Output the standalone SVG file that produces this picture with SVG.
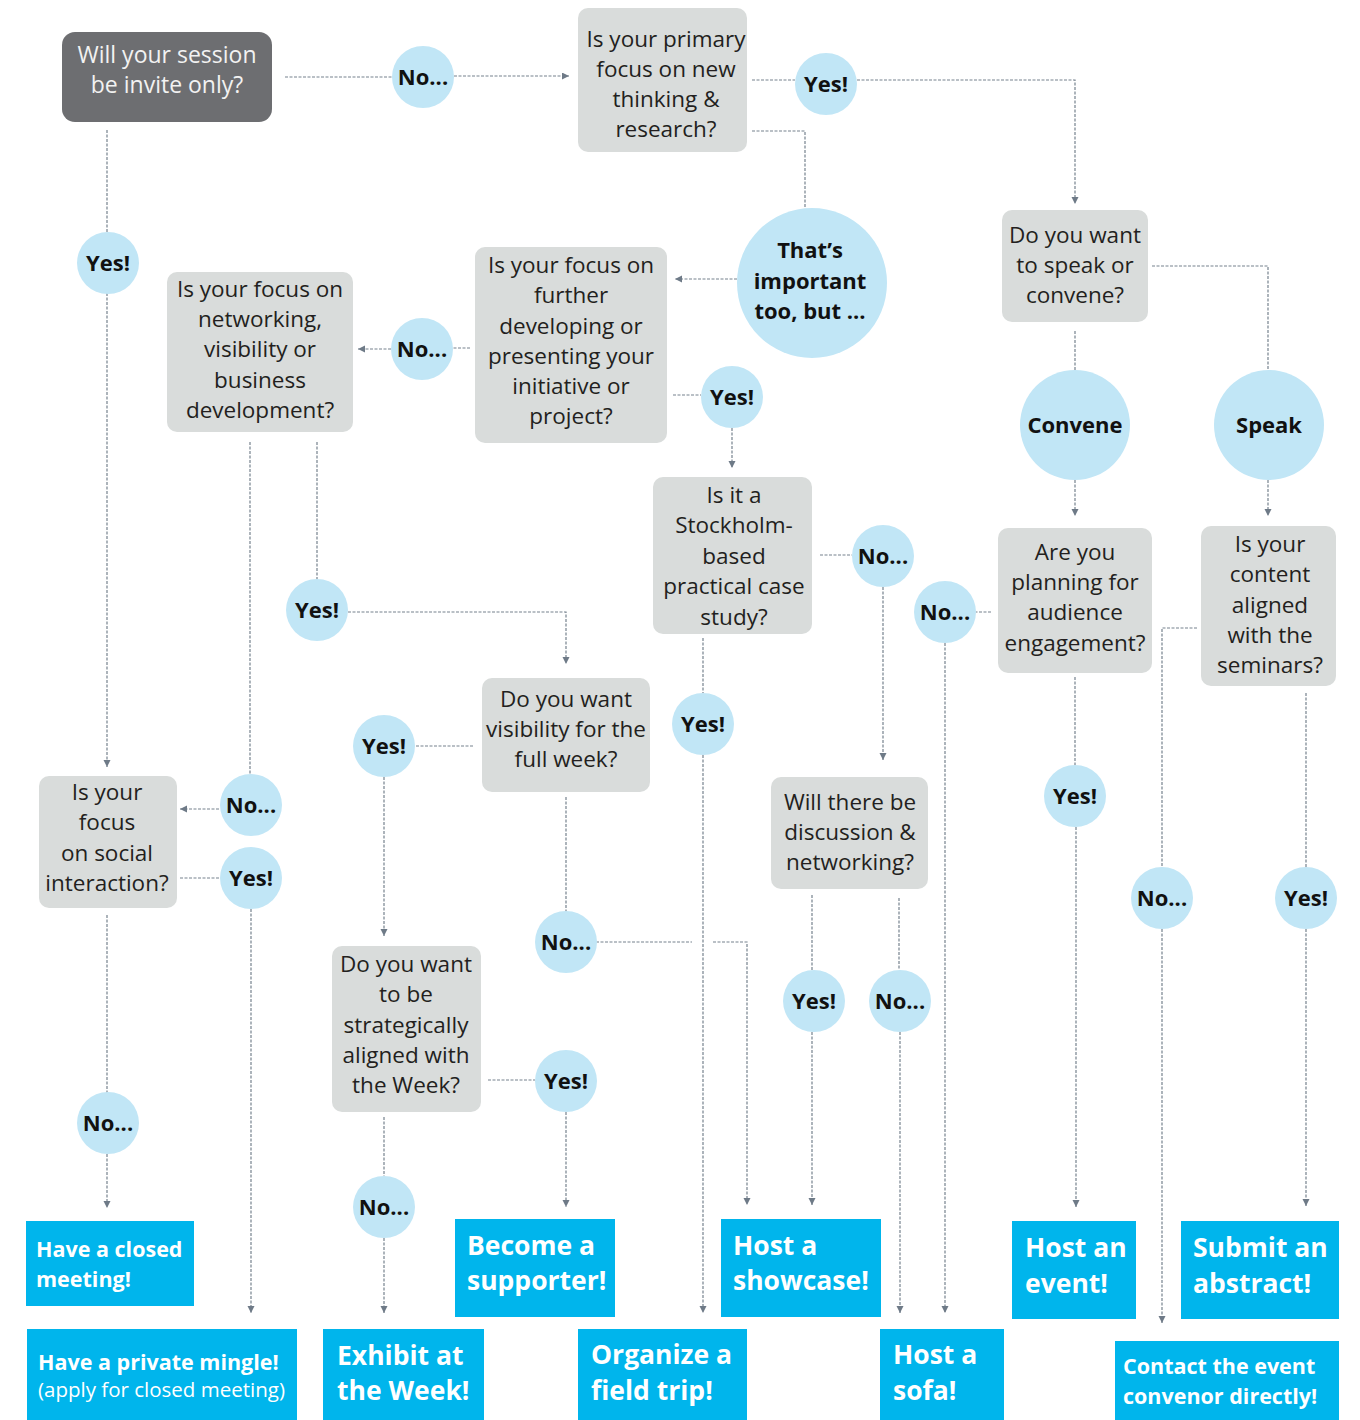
<svg xmlns="http://www.w3.org/2000/svg" width="1360" height="1420" viewBox="0 0 1360 1420">
<style>
.q rect{fill:#d9dcdb}
.q text{fill:#231f20;font-family:"Open Sans","Noto Sans",sans-serif;font-size:22.5px;text-anchor:middle}
.d rect{fill:#6d6e71}
.d text{fill:#f2f2f2;font-family:"Open Sans","Noto Sans",sans-serif;font-size:23px;text-anchor:middle}
.c circle{fill:#c1e6f6}
.c text{fill:#111;font-family:"Open Sans","Noto Sans",sans-serif;font-size:22px;font-weight:700;text-anchor:middle}
.r rect{fill:#00b5ec}
.r text{fill:#fff;font-family:"Open Sans","Noto Sans",sans-serif;font-weight:700;font-size:26.5px}
.r text.s{font-size:21.5px}
.r text.n{font-size:20.5px;font-weight:400}
#connectors path{fill:none;stroke:#76828e;stroke-width:1.2;stroke-dasharray:3 1.5}
</style>
<defs>
<marker id="ah" markerUnits="userSpaceOnUse" markerWidth="8" markerHeight="8" refX="7" refY="3.5" orient="auto">
<path d="M0,0 L7,3.5 L0,7 z" fill="#6e7a87"/>
</marker>
</defs>
<rect width="1360" height="1420" fill="#fff"/>

<g id="connectors">
<path d="M285,77 H392"/>
<path d="M454,76 H569" marker-end="url(#ah)"/>
<path d="M752,80 H795"/>
<path d="M857,80 H1075 V204" marker-end="url(#ah)"/>
<path d="M752,131 H805 V208"/>
<path d="M737,279 H675" marker-end="url(#ah)"/>
<path d="M470,348 H453"/>
<path d="M391,349 H358" marker-end="url(#ah)"/>
<path d="M673,395 H701"/>
<path d="M732,428 V468" marker-end="url(#ah)"/>
<path d="M820,555 H852"/>
<path d="M883,587 V760" marker-end="url(#ah)"/>
<path d="M703,638 V693"/>
<path d="M703,755 V1313" marker-end="url(#ah)"/>
<path d="M812,895 V970"/>
<path d="M812,1032 V1205" marker-end="url(#ah)"/>
<path d="M899,898 V970"/>
<path d="M900,1032 V1313" marker-end="url(#ah)"/>
<path d="M107,130 V232"/>
<path d="M107,293 V767" marker-end="url(#ah)"/>
<path d="M250,442 V775"/>
<path d="M219,809 H180" marker-end="url(#ah)"/>
<path d="M180,878 H219"/>
<path d="M251,909 V1313" marker-end="url(#ah)"/>
<path d="M317,442 V579"/>
<path d="M348,612 H566 V664" marker-end="url(#ah)"/>
<path d="M473,746 H415"/>
<path d="M384,777 V936" marker-end="url(#ah)"/>
<path d="M566,797 V912"/>
<path d="M596,942 H692"/>
<path d="M713,942 H747 V1205" marker-end="url(#ah)"/>
<path d="M107,915 V1093"/>
<path d="M107,1154 V1208" marker-end="url(#ah)"/>
<path d="M488,1080 H535"/>
<path d="M566,1112 V1207" marker-end="url(#ah)"/>
<path d="M384,1117 V1176"/>
<path d="M384,1238 V1313" marker-end="url(#ah)"/>
<path d="M1075,331 V370"/>
<path d="M1152,266 H1268 V370"/>
<path d="M1075,480 V516" marker-end="url(#ah)"/>
<path d="M1268,480 V516" marker-end="url(#ah)"/>
<path d="M991,612 H976"/>
<path d="M945,643 V1313" marker-end="url(#ah)"/>
<path d="M1075,677 V765"/>
<path d="M1076,827 V1207" marker-end="url(#ah)"/>
<path d="M1197,628 H1162 V867"/>
<path d="M1162,929 V1323" marker-end="url(#ah)"/>
<path d="M1306,693 V867"/>
<path d="M1306,929 V1206" marker-end="url(#ah)"/>
</g>

<g id="q-invite" class="d"><rect x="62" y="32" width="210" height="90" rx="13"/><text x="167" y="63">Will your session</text><text x="167" y="93">be invite only?</text></g>

<g id="q-primary" class="q"><rect x="578" y="8" width="169" height="144" rx="10"/><text x="666" y="47">Is your primary</text><text x="666" y="77">focus on new</text><text x="666" y="107">thinking &amp;</text><text x="666" y="137">research?</text></g>

<g id="q-further" class="q"><rect x="475" y="247" width="192" height="196" rx="10"/><text x="571" y="273">Is your focus on</text><text x="571" y="303">further</text><text x="571" y="334">developing or</text><text x="571" y="364">presenting your</text><text x="571" y="394">initiative or</text><text x="571" y="424">project?</text></g>

<g id="q-networking" class="q"><rect x="167" y="272" width="186" height="160" rx="10"/><text x="260" y="297">Is your focus on</text><text x="260" y="327">networking,</text><text x="260" y="357">visibility or</text><text x="260" y="388">business</text><text x="260" y="418">development?</text></g>

<g id="q-stockholm" class="q"><rect x="653" y="477" width="159" height="157" rx="10"/><text x="734" y="503">Is it a</text><text x="734" y="533">Stockholm-</text><text x="734" y="564">based</text><text x="734" y="594">practical case</text><text x="734" y="625">study?</text></g>

<g id="q-speak" class="q"><rect x="1002" y="210" width="146" height="112" rx="10"/><text x="1075" y="243">Do you want</text><text x="1075" y="273">to speak or</text><text x="1075" y="303">convene?</text></g>

<g id="q-planning" class="q"><rect x="998" y="528" width="154" height="145" rx="10"/><text x="1075" y="560">Are you</text><text x="1075" y="590">planning for</text><text x="1075" y="620">audience</text><text x="1075" y="651">engagement?</text></g>

<g id="q-seminars" class="q"><rect x="1201" y="526" width="135" height="160" rx="10"/><text x="1270" y="552">Is your</text><text x="1270" y="582">content</text><text x="1270" y="613">aligned</text><text x="1270" y="643">with the</text><text x="1270" y="673">seminars?</text></g>

<g id="q-visibility" class="q"><rect x="482" y="678" width="168" height="114" rx="10"/><text x="566" y="707">Do you want</text><text x="566" y="737">visibility for the</text><text x="566" y="767">full week?</text></g>

<g id="q-discussion" class="q"><rect x="771" y="777" width="157" height="112" rx="10"/><text x="850" y="810">Will there be</text><text x="850" y="840">discussion &amp;</text><text x="850" y="870">networking?</text></g>

<g id="q-social" class="q"><rect x="39" y="776" width="138" height="132" rx="10"/><text x="107" y="800">Is your</text><text x="107" y="830">focus</text><text x="107" y="861">on social</text><text x="107" y="891">interaction?</text></g>

<g id="q-strategic" class="q"><rect x="332" y="946" width="149" height="166" rx="10"/><text x="406" y="972">Do you want</text><text x="406" y="1002">to be</text><text x="406" y="1033">strategically</text><text x="406" y="1063">aligned with</text><text x="406" y="1093">the Week?</text></g>

<g id="c-no1" class="c"><circle cx="423" cy="77" r="31"/><text x="423" y="85">No...</text></g>
<g id="c-yes1" class="c"><circle cx="826" cy="84" r="31"/><text x="826" y="92">Yes!</text></g>
<g id="c-important" class="c"><circle cx="812" cy="283" r="75"/><text x="810" y="258">That’s</text><text x="810" y="289">important</text><text x="810" y="319">too, but ...</text></g>
<g id="c-no2" class="c"><circle cx="422" cy="349" r="31"/><text x="422" y="357">No...</text></g>
<g id="c-yes2" class="c"><circle cx="732" cy="397" r="31"/><text x="732" y="405">Yes!</text></g>
<g id="c-no3" class="c"><circle cx="883" cy="556" r="31"/><text x="883" y="564">No...</text></g>
<g id="c-yes3" class="c"><circle cx="108" cy="263" r="31"/><text x="108" y="271">Yes!</text></g>
<g id="c-yes4" class="c"><circle cx="317" cy="610" r="31"/><text x="317" y="618">Yes!</text></g>
<g id="c-yes5" class="c"><circle cx="703" cy="724" r="31"/><text x="703" y="732">Yes!</text></g>
<g id="c-convene" class="c"><circle cx="1075" cy="425" r="55"/><text x="1075" y="433">Convene</text></g>
<g id="c-speak" class="c"><circle cx="1269" cy="425" r="55"/><text x="1269" y="433">Speak</text></g>
<g id="c-no4" class="c"><circle cx="945" cy="612" r="31"/><text x="945" y="620">No...</text></g>
<g id="c-yes6" class="c"><circle cx="384" cy="746" r="31"/><text x="384" y="754">Yes!</text></g>
<g id="c-no5" class="c"><circle cx="251" cy="805" r="31"/><text x="251" y="813">No...</text></g>
<g id="c-yes7" class="c"><circle cx="251" cy="878" r="31"/><text x="251" y="886">Yes!</text></g>
<g id="c-yes8" class="c"><circle cx="1075" cy="796" r="31"/><text x="1075" y="804">Yes!</text></g>
<g id="c-yes9" class="c"><circle cx="814" cy="1001" r="31"/><text x="814" y="1009">Yes!</text></g>
<g id="c-no6" class="c"><circle cx="900" cy="1001" r="31"/><text x="900" y="1009">No...</text></g>
<g id="c-no7" class="c"><circle cx="1162" cy="898" r="31"/><text x="1162" y="906">No...</text></g>
<g id="c-yes10" class="c"><circle cx="1306" cy="898" r="31"/><text x="1306" y="906">Yes!</text></g>
<g id="c-no8" class="c"><circle cx="566" cy="942" r="31"/><text x="566" y="950">No...</text></g>
<g id="c-yes11" class="c"><circle cx="566" cy="1081" r="31"/><text x="566" y="1089">Yes!</text></g>
<g id="c-no9" class="c"><circle cx="108" cy="1123" r="31"/><text x="108" y="1131">No...</text></g>
<g id="c-no10" class="c"><circle cx="384" cy="1207" r="31"/><text x="384" y="1215">No...</text></g>

<g id="r-closed" class="r"><rect x="26" y="1221" width="168" height="85"/><text class="s" x="36" y="1257">Have a closed</text><text class="s" x="36" y="1287">meeting!</text></g>
<g id="r-mingle" class="r"><rect x="27" y="1329" width="270" height="91"/><text class="s" x="38" y="1370">Have a private mingle!</text><text class="n" x="38" y="1397">(apply for closed meeting)</text></g>
<g id="r-exhibit" class="r"><rect x="323" y="1329" width="161" height="91"/><text x="337" y="1365">Exhibit at</text><text x="337" y="1400">the Week!</text></g>
<g id="r-supporter" class="r"><rect x="455" y="1219" width="160" height="98"/><text x="467" y="1255">Become a</text><text x="467" y="1290">supporter!</text></g>
<g id="r-fieldtrip" class="r"><rect x="578" y="1329" width="169" height="91"/><text x="591" y="1364">Organize a</text><text x="591" y="1400">field trip!</text></g>
<g id="r-showcase" class="r"><rect x="721" y="1219" width="160" height="98"/><text x="733" y="1255">Host a</text><text x="733" y="1290">showcase!</text></g>
<g id="r-sofa" class="r"><rect x="880" y="1329" width="124" height="91"/><text x="893" y="1364">Host a</text><text x="893" y="1400">sofa!</text></g>
<g id="r-event" class="r"><rect x="1012" y="1221" width="124" height="98"/><text x="1025" y="1257">Host an</text><text x="1025" y="1293">event!</text></g>
<g id="r-abstract" class="r"><rect x="1181" y="1221" width="158" height="98"/><text x="1193" y="1257">Submit an</text><text x="1193" y="1293">abstract!</text></g>
<g id="r-contact" class="r"><rect x="1115" y="1341" width="224" height="79"/><text class="s" x="1123" y="1374">Contact the event</text><text class="s" x="1123" y="1404">convenor directly!</text></g>
</svg>
